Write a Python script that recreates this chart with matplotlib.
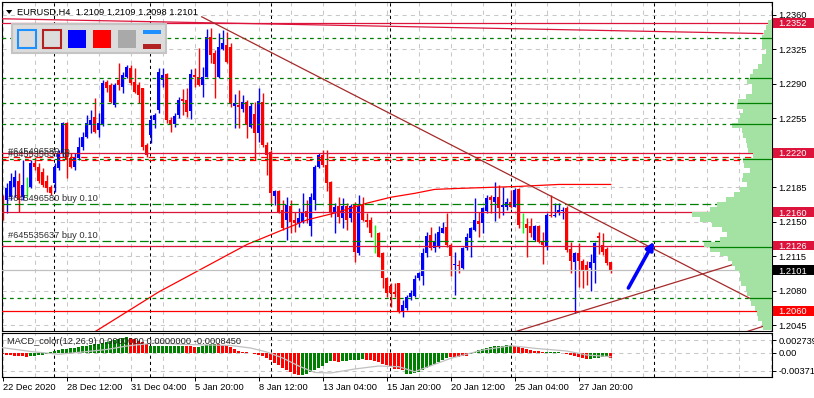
import matplotlib
matplotlib.use("Agg")
import matplotlib.pyplot as plt
import matplotlib.transforms as mtransforms
from matplotlib.patches import Rectangle, Polygon
import numpy as np

plt.rcParams['font.family'] = ['Liberation Sans', 'DejaVu Sans']

# ------------------ chart data ------------------
symbol_title = "EURUSD,H4  1.2109 1.2109 1.2098 1.2101"
macd_title = "MACD_color(12,26,9) 0.0000000 0.0000000 -0.0008450"

opens = [
    1.2174, 1.2172, 1.2175, 1.2185, 1.2192, 1.2175, 1.2182, 1.2185, 1.2210, 1.2206,
    1.2201, 1.2192, 1.2185, 1.2189, 1.2205, 1.2220, 1.2250, 1.2215, 1.2206, 1.2215,
    1.2226, 1.2236, 1.2248, 1.2256, 1.2243, 1.2248, 1.2292, 1.2289, 1.2269, 1.2294,
    1.2287, 1.2297, 1.2306, 1.2292, 1.2289, 1.2286, 1.2228, 1.2238, 1.2253, 1.2263,
    1.2294, 1.2300, 1.2253, 1.2249, 1.2258, 1.2275, 1.2274, 1.2262, 1.2299, 1.2297,
    1.2289, 1.2297, 1.2338, 1.2321, 1.2297, 1.2325, 1.2329, 1.2327, 1.2268, 1.2269,
    1.2264, 1.2272, 1.2246, 1.2259, 1.2240, 1.2272, 1.2228, 1.2221, 1.2176, 1.2181,
    1.2162, 1.2152, 1.2166, 1.2152, 1.2149, 1.2150, 1.2161, 1.2146, 1.2172, 1.2206,
    1.2218, 1.2208, 1.2190, 1.2159, 1.2166, 1.2154, 1.2166, 1.2154, 1.2168, 1.2118,
    1.2167, 1.2152, 1.2152, 1.2139, 1.2139, 1.2118, 1.2093, 1.2085, 1.2079, 1.2088,
    1.2059, 1.2063, 1.2074, 1.2075, 1.2093, 1.2095, 1.2118, 1.2137, 1.2124, 1.2125,
    1.2139, 1.2145, 1.2127, 1.2106, 1.2106, 1.2103, 1.2124, 1.2134, 1.2142, 1.2151,
    1.2149, 1.2161, 1.2175, 1.2170, 1.2175, 1.2165, 1.2165, 1.2170, 1.2165, 1.2183,
    1.2147, 1.2148, 1.2146, 1.2132, 1.2146, 1.2130, 1.2126, 1.2157, 1.2156, 1.2159,
    1.2161, 1.2164, 1.2123, 1.2109, 1.2118, 1.2110, 1.2106, 1.2103, 1.2108, 1.2136,
    1.2127, 1.2123, 1.2109,
]
highs = [
    1.2177, 1.2189, 1.2200, 1.2203, 1.2200, 1.2213, 1.2196, 1.2213, 1.2216, 1.2210,
    1.2205, 1.2198, 1.2187, 1.2210, 1.2223, 1.2251, 1.2251, 1.2220, 1.2220, 1.2236,
    1.2241, 1.2258, 1.2263, 1.2276, 1.2260, 1.2294, 1.2294, 1.2291, 1.2291, 1.2311,
    1.2302, 1.2309, 1.2309, 1.2306, 1.2292, 1.2286, 1.2230, 1.2258, 1.2260, 1.2306,
    1.2306, 1.2301, 1.2256, 1.2260, 1.2277, 1.2285, 1.2286, 1.2305, 1.2306, 1.2326,
    1.2307, 1.2346, 1.2347, 1.2324, 1.2342, 1.2345, 1.2343, 1.2331, 1.2280, 1.2284,
    1.2279, 1.2274, 1.2271, 1.2272, 1.2286, 1.2281, 1.2231, 1.2223, 1.2182, 1.2182,
    1.2172, 1.2175, 1.2172, 1.2160, 1.2164, 1.2179, 1.2172, 1.2179, 1.2208, 1.2220,
    1.2223, 1.2223, 1.2192, 1.2169, 1.2175, 1.2174, 1.2169, 1.2168, 1.2170, 1.2177,
    1.2175, 1.2159, 1.2155, 1.2147, 1.2140, 1.2119, 1.2094, 1.2088, 1.2088, 1.2088,
    1.2071, 1.2076, 1.2081, 1.2096, 1.2099, 1.2124, 1.2140, 1.2145, 1.2139, 1.2146,
    1.2150, 1.2159, 1.2129, 1.2119, 1.2111, 1.2125, 1.2139, 1.2145, 1.2174, 1.2160,
    1.2165, 1.2177, 1.2177, 1.2190, 1.2187, 1.2185, 1.2174, 1.2182, 1.2184, 1.2184,
    1.2159, 1.2154, 1.2154, 1.2147, 1.2147, 1.2140, 1.2159, 1.2177, 1.2169, 1.2169,
    1.2165, 1.2166, 1.2130, 1.2119, 1.2129, 1.2112, 1.2110, 1.2117, 1.2130, 1.2140,
    1.2139, 1.2125, 1.2109,
]
lows = [
    1.2152, 1.2159, 1.2172, 1.2175, 1.2160, 1.2172, 1.2175, 1.2184, 1.2203, 1.2189,
    1.2185, 1.2180, 1.2177, 1.2180, 1.2203, 1.2216, 1.2195, 1.2205, 1.2203, 1.2213,
    1.2223, 1.2235, 1.2240, 1.2240, 1.2236, 1.2247, 1.2282, 1.2271, 1.2267, 1.2284,
    1.2281, 1.2296, 1.2289, 1.2281, 1.2271, 1.2223, 1.2216, 1.2230, 1.2245, 1.2260,
    1.2287, 1.2250, 1.2241, 1.2246, 1.2255, 1.2258, 1.2256, 1.2254, 1.2287, 1.2288,
    1.2277, 1.2297, 1.2311, 1.2276, 1.2296, 1.2324, 1.2311, 1.2267, 1.2245, 1.2245,
    1.2261, 1.2235, 1.2245, 1.2213, 1.2231, 1.2226, 1.2198, 1.2169, 1.2167, 1.2159,
    1.2142, 1.2132, 1.2139, 1.2140, 1.2145, 1.2149, 1.2149, 1.2136, 1.2162, 1.2205,
    1.2206, 1.2181, 1.2155, 1.2139, 1.2149, 1.2144, 1.2142, 1.2150, 1.2109, 1.2116,
    1.2151, 1.2145, 1.2135, 1.2118, 1.2114, 1.2083, 1.2074, 1.2064, 1.2074, 1.2058,
    1.2054, 1.2061, 1.2071, 1.2074, 1.2091, 1.2086, 1.2114, 1.2122, 1.2119, 1.2124,
    1.2139, 1.2125, 1.2095, 1.2076, 1.2098, 1.2102, 1.2122, 1.2114, 1.2141, 1.2135,
    1.2139, 1.2159, 1.2159, 1.2151, 1.2154, 1.2157, 1.2162, 1.2164, 1.2165, 1.2144,
    1.2139, 1.2114, 1.2135, 1.2131, 1.2129, 1.2107, 1.2122, 1.2155, 1.2155, 1.2157,
    1.2153, 1.2120, 1.2098, 1.2058, 1.2084, 1.2083, 1.2086, 1.2080, 1.2088, 1.2117,
    1.2116, 1.2106, 1.2098,
]
closes = [
    1.2160, 1.2184, 1.2192, 1.2196, 1.2172, 1.2187, 1.2182, 1.2210, 1.2206, 1.2192,
    1.2187, 1.2184, 1.2179, 1.2206, 1.2220, 1.2250, 1.2213, 1.2206, 1.2215, 1.2226,
    1.2236, 1.2250, 1.2253, 1.2241, 1.2250, 1.2291, 1.2286, 1.2272, 1.2289, 1.2289,
    1.2299, 1.2307, 1.2291, 1.2282, 1.2279, 1.2226, 1.2218, 1.2253, 1.2258, 1.2302,
    1.2299, 1.2253, 1.2248, 1.2257, 1.2274, 1.2273, 1.2261, 1.2300, 1.2297, 1.2289,
    1.2297, 1.2338, 1.2319, 1.2310, 1.2327, 1.2331, 1.2312, 1.2270, 1.2271, 1.2267,
    1.2272, 1.2248, 1.2268, 1.2240, 1.2273, 1.2228, 1.2218, 1.2179, 1.2181, 1.2160,
    1.2144, 1.2167, 1.2150, 1.2149, 1.2154, 1.2160, 1.2155, 1.2175, 1.2206, 1.2218,
    1.2208, 1.2189, 1.2160, 1.2165, 1.2155, 1.2166, 1.2152, 1.2166, 1.2120, 1.2166,
    1.2152, 1.2150, 1.2139, 1.2139, 1.2114, 1.2093, 1.2078, 1.2078, 1.2077, 1.2059,
    1.2066, 1.2074, 1.2078, 1.2092, 1.2098, 1.2118, 1.2136, 1.2124, 1.2130, 1.2140,
    1.2144, 1.2127, 1.2115, 1.2107, 1.2105, 1.2124, 1.2135, 1.2144, 1.2152, 1.2148,
    1.2164, 1.2174, 1.2172, 1.2175, 1.2164, 1.2167, 1.2170, 1.2165, 1.2182, 1.2147,
    1.2147, 1.2144, 1.2139, 1.2146, 1.2130, 1.2127, 1.2157, 1.2156, 1.2157, 1.2162,
    1.2162, 1.2122, 1.2110, 1.2118, 1.2110, 1.2100, 1.2101, 1.2109, 1.2129, 1.2134,
    1.2120, 1.2108, 1.2101,
]

# red moving average (bar index, price)
ma_bars = [22, 39, 61, 76, 83, 91, 97, 103, 108, 114, 129, 139, 152]
ma_vals = [1.2036, 1.2079, 1.2127, 1.2152, 1.2159, 1.2169, 1.2175, 1.2179,
           1.2183, 1.2184, 1.2186, 1.2188, 1.2188]

# chart objects
level_lines = [1.2352, 1.2220, 1.2160, 1.2126]
level_low = 1.2060
bid_price = 1.2101
green_levels = [1.2337, 1.2296, 1.2271, 1.2249, 1.2214, 1.2073]
order_levels = [1.2168, 1.2131]
order_labels = ["#645496580 buy 0.10", "#645535637 buy 0.10"]
tp_levels = [1.2216, 1.2213]
tp_labels = ["#645496580 tp", "#645535637 tp"]
profile_marks = [1.2337, 1.2296, 1.2271, 1.2249, 1.2214, 1.2125, 1.2073]
top_line = ([-0.175, 190.0], [1.2356, 1.2341])
trend_down = ([49.75, 192.3], [1.2358, 1.2061])
trend_up = ([126.0, 192.3], [1.2036, 1.2119])
trend_up2 = ([180.0, 192.3], [1.2031, 1.2047])
arrow_from = (156.4, 1.2083)
arrow_to = (162.8, 1.2130)
separators = [12.8, 36.8, 67.0, 96.8, 127.0, 162.8]

price_ticks = [1.2045, 1.2080, 1.2115, 1.2150, 1.2185, 1.2220, 1.2255, 1.2290, 1.2325, 1.2360]
price_boxes = [1.2352, 1.2220, 1.2160, 1.2126, 1.2101, 1.2060]
box_colors = ['#dc143c', '#dc143c', '#dc143c', '#dc143c', '#000000', '#ff0000']

# volume profile on the right (lower edge of each 5-pip bin, width)
profile_start = 1.2040
profile_step = 0.0005
profile_volume = [
    9, 10, 14, 15, 17, 21, 22, 25, 26, 31, 32, 32, 37, 40, 44, 52,
    62, 68, 52, 45, 50, 60, 72, 80, 62, 55, 46, 38, 32, 25, 30, 29,
    22, 28, 29, 19, 24, 25, 26, 29, 30, 40, 34, 32, 29, 35, 34, 26,
    20, 20, 25, 22, 19, 14, 10, 10, 6, 10, 10, 10, 8, 6, 4, 0,
]

# MACD histogram and signal
macd_hist = [
    -0.00027, -0.00036, -0.00046, -0.00057, -0.00063, -0.00070, -0.00074, -0.00070, -0.00059, -0.00046,
    -0.00032, -0.00017, 0.00011, 0.00032, 0.00053, 0.00074, 0.00084, 0.00095, 0.00110, 0.00126,
    0.00137, 0.00152, 0.00169, 0.00185, 0.00200, 0.00221, 0.00238, 0.00263, 0.00280, 0.00295,
    0.00316, 0.00337, 0.00316, 0.00295, 0.00263, 0.00232, 0.00190, 0.00143, 0.00147, 0.00147,
    0.00152, 0.00154, 0.00154, 0.00158, 0.00158, 0.00158, 0.00147, 0.00137, 0.00126, 0.00133,
    0.00147, 0.00169, 0.00190, 0.00200, 0.00194, 0.00179, 0.00169, 0.00126, 0.00074, 0.00042,
    0.00021, 0.00011, -0.00006, -0.00011, -0.00032, -0.00063, -0.00105, -0.00158, -0.00211, -0.00263,
    -0.00316, -0.00358, -0.00400, -0.00442, -0.00474, -0.00464, -0.00442, -0.00400, -0.00358, -0.00316,
    -0.00274, -0.00221, -0.00169, -0.00179, -0.00190, -0.00179, -0.00169, -0.00158, -0.00147, -0.00137,
    -0.00131, -0.00137, -0.00158, -0.00179, -0.00200, -0.00232, -0.00263, -0.00295, -0.00327, -0.00337,
    -0.00358, -0.00442, -0.00442, -0.00421, -0.00390, -0.00358, -0.00316, -0.00274, -0.00232, -0.00190,
    -0.00147, -0.00105, -0.00084, -0.00084, -0.00074, -0.00063, -0.00053, -0.00021, 0.00021, 0.00053,
    0.00074, 0.00095, 0.00116, 0.00137, 0.00147, 0.00158, 0.00164, 0.00158, 0.00147, 0.00126,
    0.00105, 0.00084, 0.00063, 0.00042, 0.00032, 0.00017, 0.00011, 0.00015, 0.00017, 0.00011,
    0.00006, -0.00011, -0.00032, -0.00053, -0.00074, -0.00105, -0.00116, -0.00116, -0.00105, -0.00095,
    -0.00084, -0.00074, -0.00105,
]
macd_state = ("rrrrrrr" "ggggggggggggggggggggggggg" "rrrrr" "ggggggggg" "rrr" "ggggg"
              "rrrrrrrrrrrrrrrrrrrrr" "gggggggg" "rr" "gggggg" "rrrrrrrrrr"
              "ggggggggggg" "rrrrr" "ggggggggggg" "rrrrrrrr" "ggggg" "rrrrrr" "ggggg" "r")
signal_bars = [0, 7, 14, 20, 26, 31, 38, 46, 57, 62, 66, 70, 74, 78, 82, 88, 94, 99,
               103, 108, 112, 120, 127, 133, 141, 146, 152]
signal_vals = [0.00112, 0.00032, -0.00027, 0.00021, 0.00074, 0.00147, 0.00211, 0.00179,
               0.00158, 0.00105, 0.00021, -0.00105, -0.00274, -0.00411, -0.00421, -0.00337,
               -0.00274, -0.00289, -0.00394, -0.00238, -0.00112, 0.00063, 0.00154, 0.00099,
               0.00042, -0.00042, -0.00078]
macd_ticks = [0.002739, 0.0, -0.00371]
macd_tick_labels = ["0.002739", "0.00", "-0.003710"]

date_bars = [0, 16, 32, 48, 64, 80, 96, 112, 128, 144]
date_labels = ["22 Dec 2020", "28 Dec 12:00", "31 Dec 04:00", "5 Jan 20:00", "8 Jan 12:00",
               "13 Jan 04:00", "15 Jan 20:00", "20 Jan 12:00", "25 Jan 04:00", "27 Jan 20:00"]

# ------------------ layout helpers (figure pixels) ------------------
W, H = 814.0, 398.0


def fx(px):
    return px / W


def fy(py):
    return 1.0 - py / H


X0, X1 = -0.175, 192.3
FS = 6.7
GRID = '#c8c8c8'

fig = plt.figure(figsize=(8.14, 3.98), dpi=100)
ax = fig.add_axes([fx(2), fy(331), fx(770), fy(2) - fy(331)])
axm = fig.add_axes([fx(2), fy(377), fx(770), fy(333) - fy(377)])

# ==================== price panel ====================
ax.set_xlim(X0, X1)
ax.set_ylim(1.20394, 1.2373)

for yv in price_ticks:
    ax.axhline(yv, color=GRID, lw=0.75, ls=(0, (4, 4)), zorder=0.5)
for xv in range(0, 193, 8):
    ax.axvline(xv, color=GRID, lw=0.75, ls=(0, (4, 4)), zorder=0.5)
for xv in separators:
    ax.axvline(xv, color='black', lw=0.75, ls=(0, (3, 3)), zorder=1)

# candles
o = np.array(opens)
hi = np.array(highs)
lo = np.array(lows)
c = np.array(closes)
x = np.arange(len(o))
doji = np.abs(c - o) < 1e-9
cols = np.where(c > o, '#0000ff', '#ff0000')
cols = np.where(doji, '#00ff00', cols)
ax.vlines(x, lo, hi, colors=cols, lw=1.0, zorder=2)
body_bottom = np.minimum(o, c)
body_h = np.maximum(np.abs(c - o), 0.0001)
m = ~doji
ax.bar(x[m], body_h[m], bottom=body_bottom[m], width=0.72, color=cols[m], lw=0, zorder=2)

# indicator + objects
ax.plot(ma_bars, ma_vals, color='#ff0000', lw=0.9, zorder=3)
for lv in level_lines:
    ax.axhline(lv, color='#dc143c', lw=0.9, zorder=3)
ax.axhline(level_low, color='#ff0000', lw=0.9, zorder=3)
ax.axhline(bid_price, color='#c0c0c0', lw=0.9, zorder=3)
for lv in green_levels:
    ax.axhline(lv, color='#008000', lw=0.9, ls=(0, (3, 3)), zorder=3)
for lv, txt in zip(order_levels, order_labels):
    ax.axhline(lv, color='#008000', lw=0.9, ls=(0, (7, 3)), zorder=3)
    ax.text(1.3, lv + 0.00055, txt, fontsize=FS, color='#303030', va='center', ha='left', zorder=3.5)
for lv, txt in zip(tp_levels, tp_labels):
    ax.axhline(lv, color='#ff0000', lw=0.9, ls=(0, (5, 4)), zorder=3)
    ax.text(1.3, lv + 0.00055, txt, fontsize=FS, color='#303030', va='center', ha='left', zorder=3.5)

ax.plot(top_line[0], top_line[1], color='#dc143c', lw=0.9, zorder=3)
for tl in (trend_down, trend_up, trend_up2):
    ax.plot(tl[0], tl[1], color='#a52a2a', lw=0.9, zorder=3)

# volume profile
vol = np.array(profile_volume) / 4.0
levels = profile_start + profile_step * np.arange(len(vol))
ax.barh(levels + profile_step / 2, vol, left=X1 - vol, height=profile_step,
        color='#a3e2a3', lw=0, zorder=4)
for lv in profile_marks:
    k = int((lv - profile_start) / profile_step)
    ax.plot([X1 - vol[k], X1], [lv, lv], color='#008000', lw=0.9, zorder=4.5)

ax.annotate('', xy=arrow_to, xytext=arrow_from,
            arrowprops=dict(arrowstyle='-|>', color='#0000ff', lw=2.6,
                            mutation_scale=11, shrinkA=0, shrinkB=0), zorder=6)

for sp in ax.spines.values():
    sp.set_linewidth(0.8)
ax.tick_params(axis='x', bottom=False, labelbottom=False)
ax.yaxis.tick_right()
ax.set_yticks(price_ticks)
ax.set_yticklabels(["%.4f" % t for t in price_ticks])
ax.tick_params(axis='y', direction='out', length=3, width=0.7, pad=1.5, labelsize=FS)

# price boxes on the right scale
tr = mtransforms.blended_transform_factory(ax.transAxes, ax.transData)
for p, bc in zip(price_boxes, box_colors):
    ax.add_patch(Rectangle((1.0013, p - 0.00049), 0.06, 0.00098, transform=tr,
                           facecolor=bc, edgecolor='none', clip_on=False, zorder=10))
    ax.text(1.0078, p, "%.4f" % p, transform=tr, color='white', fontsize=FS,
            va='center_baseline', ha='left', clip_on=False, zorder=11)

# ==================== MACD panel ====================
axm.set_xlim(X0, X1)
axm.set_ylim(-0.005057, 0.004214)
for yv in macd_ticks:
    axm.axhline(yv, color=GRID, lw=0.75, ls=(0, (4, 4)), zorder=0.5)
for xv in range(0, 193, 8):
    axm.axvline(xv, color=GRID, lw=0.75, ls=(0, (4, 4)), zorder=0.5)
for xv in separators:
    axm.axvline(xv, color='black', lw=0.75, ls=(0, (3, 3)), zorder=1)

mcols = ['#008000' if s == 'g' else '#ff0000' for s in macd_state]
axm.bar(np.arange(len(macd_hist)), macd_hist, width=0.72, color=mcols, lw=0, zorder=2)
axm.plot(signal_bars, signal_vals, color='#c0c0c0', lw=0.9, zorder=3)
axm.text(0.0065, 0.818, macd_title, transform=axm.transAxes, fontsize=FS,
         color='#202020', va='center', ha='left', zorder=5)

for sp in axm.spines.values():
    sp.set_linewidth(0.8)
axm.yaxis.tick_right()
axm.set_yticks(macd_ticks)
axm.set_yticklabels(macd_tick_labels)
axm.tick_params(axis='y', direction='out', length=3, width=0.7, pad=1.5, labelsize=FS)
axm.set_xticks(date_bars)
axm.set_xticklabels(date_labels, ha='left')
axm.tick_params(axis='x', direction='out', length=3, width=0.7, pad=1.5, labelsize=FS)

# ==================== header + toolbar ====================
fig.add_artist(Polygon([(fx(6), fy(10)), (fx(12.3), fy(10)), (fx(9.2), fy(14))],
                       closed=True, facecolor='black', edgecolor='none', transform=fig.transFigure))
fig.text(fx(17), fy(12), symbol_title, fontsize=FS, color='black', va='center', ha='left')


def box(x0, y0, x1, y1, fc, ec='none', lw=0):
    fig.add_artist(Rectangle((fx(x0), fy(y1)), fx(x1) - fx(x0), fy(y0) - fy(y1),
                             facecolor=fc, edgecolor=ec, linewidth=lw,
                             transform=fig.transFigure, zorder=20))


box(12, 24, 166, 53, '#dcdcdc', '#c4c4c4', 1.5)
box(18, 30, 36, 48, '#dcdcdc', '#1e90ff', 1.5)
box(43, 30, 61, 48, '#dcdcdc', '#b22222', 1.5)
box(68, 29.5, 86, 48, '#0000ff')
box(93, 29.5, 111, 48, '#ff0000')
box(118, 29.5, 136, 48, '#a9a9a9')
box(143, 30, 161, 34.3, '#1e90ff')
box(143, 44.3, 161, 48.7, '#b22222')

fig.savefig('out.png', dpi=100, facecolor='white')
